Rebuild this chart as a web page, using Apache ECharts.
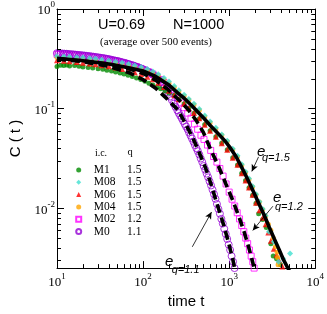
<!DOCTYPE html>
<html><head><meta charset="utf-8">
<script src="https://cdn.jsdelivr.net/npm/echarts@6/dist/echarts.min.js"></script>
<style>html,body{margin:0;padding:0;background:#fff}#c{width:327px;height:314px}</style>
</head><body><div id="c"></div>
<script>
// ---- tick values ----
const xMajorTicks = [10, 100, 1000, 10000];
const yMajorTicks = [0.01, 0.1, 1];
const xMinorTicks = [20,30,40,50,60,70,80,90,200,300,400,500,600,700,800,900,2000,3000,4000,5000,6000,7000,8000,9000];
const yMinorTicks = [0.003,0.004,0.005,0.006,0.007,0.008,0.009,0.02,0.03,0.04,0.05,0.06,0.07,0.08,0.09,0.2,0.3,0.4,0.5,0.6,0.7,0.8,0.9];

// ---- legend table ----
const seriesNames = ['M1','M08','M06','M04','M02','M0'];
const qValues = ['1.5','1.5','1.5','1.5','1.2','1.1'];

// ---- data series (time t, C(t)) ----
const M1_t = [10,11,12,13,14,16,18,20,23,26,30,34,38,43,48,54,60,67,75,84,94,105,117,130,145,160,180,200,230,260,300,340,390,450,520,600,700,820,950,1100,1250,1400,1550,1700,1870,2050,2200,2450,2700,3050,3250,3550,3950];
const M1_C = [0.265,0.272,0.27,0.274,0.268,0.27,0.266,0.262,0.259,0.256,0.251,0.248,0.243,0.238,0.233,0.228,0.222,0.216,0.21,0.203,0.196,0.188,0.18,0.172,0.165,0.158,0.15,0.143,0.136,0.124,0.112,0.101,0.09,0.079,0.069,0.06,0.052,0.045,0.0385,0.032,0.0272,0.0224,0.0189,0.016,0.0135,0.0112,0.0088,0.0077,0.0064,0.0044,0.0033,0.0031,0.0027];

const M08_t = [10,12,14,17,20,24,28,33,40,48,57,68,80,95,112,130,150,175,200,230,260,300,340,390,450,520,600,700,820,950,1100,1250,1400,1550,1700,1870,2050,2250,2450,2650,2900,3300,3750,4250,5100];
const M08_C = [0.335,0.333,0.331,0.328,0.325,0.321,0.316,0.31,0.303,0.296,0.289,0.28,0.271,0.261,0.249,0.236,0.221,0.203,0.187,0.169,0.153,0.138,0.125,0.112,0.099,0.085,0.074,0.064,0.055,0.0475,0.0395,0.0335,0.0276,0.0232,0.0198,0.0166,0.0138,0.0116,0.0098,0.0084,0.0058,0.0046,0.0029,0.0031,0.0035];

const M06_t = [10,12,14,17,20,24,28,33,40,48,57,68,80,95,112,130,150,175,200,230,260,300,340,390,450,520,600,700,820,950,1100,1250,1400,1550,1700,1870,2050,2250,2450,2650,2850,3050,3300,3550,3800,4150,4450];
const M06_C = [0.305,0.302,0.299,0.294,0.289,0.284,0.279,0.273,0.266,0.258,0.25,0.241,0.232,0.222,0.209,0.197,0.182,0.165,0.151,0.136,0.124,0.112,0.101,0.0905,0.08,0.0686,0.06,0.052,0.0449,0.0387,0.0321,0.0273,0.0224,0.0189,0.0161,0.0136,0.0113,0.0095,0.008,0.0069,0.0057,0.0047,0.0039,0.0034,0.003,0.0026,0.0024];

const M04_t = [10,12,14,17,20,24,28,33,40,48,57,68,80,95,112,130,150,175,200,230,260,300,340,390,450,520,600,700,820,950,1100,1250,1400,1550,1700,1870,2050,2250,2450,2650,2850,3050,3250,3450,3600,3650,3700];
const M04_C = [0.325,0.322,0.319,0.315,0.311,0.306,0.301,0.295,0.289,0.283,0.276,0.267,0.259,0.25,0.238,0.226,0.212,0.195,0.18,0.163,0.148,0.134,0.122,0.109,0.096,0.083,0.072,0.0625,0.054,0.0466,0.0387,0.0329,0.027,0.0228,0.0194,0.0163,0.0136,0.0115,0.0097,0.0083,0.0069,0.006,0.005,0.0041,0.0036,0.0032,0.0027];

const M02_t = [10,11,12,13,14,16,18,20,23,26,30,34,38,43,48,54,60,67,75,84,94,105,117,130,145,160,175,190,210,230,250,275,300,330,360,395,430,470,510,560,610,660,720,780,850,920,1000,1080,1160,1240,1320,1400,1480,1560,1640,1720,1800,1880,1950];
const M02_C = [0.35,0.349,0.347,0.345,0.343,0.34,0.337,0.334,0.33,0.326,0.32,0.315,0.31,0.304,0.298,0.292,0.285,0.278,0.27,0.262,0.253,0.243,0.233,0.222,0.209,0.196,0.183,0.17,0.155,0.141,0.128,0.114,0.102,0.09,0.08,0.07,0.062,0.054,0.049,0.043,0.038,0.033,0.029,0.025,0.021,0.0175,0.0145,0.0123,0.0105,0.009,0.0078,0.0067,0.0058,0.005,0.0044,0.0038,0.0033,0.0029,0.0025];

const M0_t = [10,10.5,11,11.6,12.2,12.8,13.4,14.1,14.8,15.5,16.3,17.1,18,18.9,19.8,20.8,21.8,22.9,24,25.2,26.5,27.8,29.2,30.7,32.2,33.8,35.5,37.3,39.2,41.1,43.2,45.3,47.6,50,52.5,55.1,57.9,60.8,63.8,67,70.4,73.9,77.6,81.5,85.5,89.8,94.3,99,104,109,115,120,126,133,139,146,154,161,169,178,187,196,206,216,227,238,250,260,270,281,292,304,316,329,342,356,370,385,400,416,433,450,468,487,506,527,548,570,592,616,641,667,693,721,750,780,811,843,877,912,949,987,1026,1067,1110,1154];
const M0_C = [0.36,0.359,0.358,0.357,0.356,0.355,0.354,0.352,0.351,0.35,0.348,0.347,0.345,0.344,0.342,0.341,0.339,0.337,0.336,0.334,0.332,0.33,0.328,0.326,0.324,0.322,0.32,0.317,0.315,0.312,0.309,0.306,0.303,0.301,0.298,0.294,0.291,0.288,0.285,0.281,0.277,0.274,0.27,0.266,0.262,0.258,0.253,0.249,0.244,0.239,0.234,0.229,0.223,0.216,0.21,0.202,0.193,0.185,0.176,0.165,0.155,0.145,0.132,0.122,0.112,0.104,0.096,0.09,0.085,0.08,0.075,0.07,0.066,0.062,0.0575,0.0535,0.05,0.0465,0.043,0.04,0.0373,0.0345,0.0315,0.029,0.0265,0.0243,0.0222,0.0204,0.0186,0.0169,0.0153,0.0138,0.0124,0.011,0.0098,0.0088,0.0078,0.007,0.0062,0.0055,0.0049,0.0043,0.0038,0.0033,0.0029,0.0025];

// ---- fitted q-exponential curves ----
const fit15_t = [10,20,40,70,100,140,200,254,300,364,430,508,600,746,900,1036,1200,1343,1550,1742,2000,2259,2600,2930,3350,3800,4300,4930,5200];
const fit15_C = [0.32,0.302,0.28,0.256,0.239,0.21,0.172,0.143,0.127,0.108,0.093,0.08,0.068,0.056,0.047,0.04,0.033,0.0275,0.0215,0.0175,0.0135,0.0107,0.0082,0.0064,0.0049,0.00384,0.003,0.0024,0.0022];
const fit12_t = [10,20,40,70,100,140,190,267,340,414,500,608,750,916,1100,1313,1500,1653,1800,1950,2050];
const fit12_C = [0.316,0.3,0.28,0.25,0.225,0.193,0.158,0.12,0.096,0.076,0.058,0.039,0.0265,0.0175,0.012,0.008,0.0057,0.0043,0.0033,0.0025,0.0021];
const fit11_t = [10,20,40,70,100,140,190,254,300,373,450,535,624,700,786,870,964,1042,1100,1154,1200];
const fit11_C = [0.315,0.296,0.265,0.228,0.195,0.16,0.125,0.097,0.075,0.052,0.036,0.025,0.0168,0.012,0.0088,0.0066,0.0048,0.0037,0.0031,0.0025,0.0021];

// ---- annotation arrows [from, to] in data coords ----
const arrowQ15 = [[2193,0.0327],[1832,0.0234]];
const arrowQ12 = [[3222,0.01046],[1879,0.00598]];
const arrowQ11 = [[373,0.00409],[624,0.00914]];

const X_MIN = 10, X_MAX = 10000, Y_MIN = 0.0025, Y_MAX = 1;

function pts(t, c){ return t.map((v,i)=>[v, c[i]]); }
function powLabel(v){
  const e = Math.log10(v), r = Math.round(e);
  if (Math.abs(e - r) > 1e-6) return '';
  return '{b|10}{s|' + (r < 0 ? '-' + (-r) : r) + '}';
}
const labelRich = {
  b: {fontFamily:'Liberation Serif', fontSize:13, lineHeight:17, verticalAlign:'bottom', color:'#000'},
  s: {fontFamily:'Liberation Serif', fontSize:9, lineHeight:9, verticalAlign:'top', color:'#000'}
};
const SERIF = 'Liberation Serif', SANS = 'Liberation Sans';

const chart = echarts.init(document.getElementById('c'), null, {renderer:'canvas'});

function axisCommon(pos, showLabel, isX){
  return {
    type:'log', logBase:10, position:pos,
    min: isX ? X_MIN : Y_MIN, max: isX ? X_MAX : Y_MAX,
    axisLine:{show:true, onZero:false, lineStyle:{color:'#000', width:1}},
    axisTick:{show:true, inside:true, length:7, lineStyle:{color:'#000', width:1}},
    minorTick:{show:false},
    splitLine:{show:false},
    axisLabel:{show:showLabel, formatter:powLabel, rich:labelRich, margin: isX ? 4 : 2},
  };
}
const xAxisB = Object.assign(axisCommon('bottom', true, true), {
  name:'time t', nameLocation:'middle', nameGap:25,
  nameTextStyle:{fontFamily:SANS, fontSize:15, color:'#000'}
});
const xAxisT = axisCommon('top', false, true);
const yAxisL = Object.assign(axisCommon('left', true, false), {
  name:'C ( t )', nameLocation:'middle', nameGap:34, nameRotate:90,
  nameTextStyle:{fontFamily:SANS, fontSize:15, color:'#000'}
});
const yAxisR = axisCommon('right', false, false);

const minorTickSeriesX = {
  type:'custom', coordinateSystem:'cartesian2d', xAxisIndex:0, yAxisIndex:0, silent:true, z:10,
  data: xMinorTicks.map(v=>[v, Y_MAX]),
  renderItem:(p, api)=>{
    const v = api.value(0);
    const b = api.coord([v, Y_MIN]), t = api.coord([v, Y_MAX]);
    const x = Math.round(b[0]) + 0.5;
    return {type:'group', children:[
      {type:'line', shape:{x1:x, y1:b[1], x2:x, y2:b[1]-4}, style:{stroke:'#000', lineWidth:1}},
      {type:'line', shape:{x1:x, y1:t[1], x2:x, y2:t[1]+4}, style:{stroke:'#000', lineWidth:1}}
    ]};
  }
};
const minorTickSeriesY = {
  type:'custom', coordinateSystem:'cartesian2d', xAxisIndex:0, yAxisIndex:0, silent:true, z:10,
  data: yMinorTicks.map(v=>[X_MIN, v]),
  renderItem:(p, api)=>{
    const v = api.value(1);
    const l = api.coord([X_MIN, v]), r = api.coord([X_MAX, v]);
    const y = Math.round(l[1]) + 0.5;
    return {type:'group', children:[
      {type:'line', shape:{x1:l[0], y1:y, x2:l[0]+4, y2:y}, style:{stroke:'#000', lineWidth:1}},
      {type:'line', shape:{x1:r[0], y1:y, x2:r[0]-4, y2:y}, style:{stroke:'#000', lineWidth:1}}
    ]};
  }
};

function scatter(name, t, c, symbol, size, style){
  return {name, type:'scatter', xAxisIndex:0, yAxisIndex:0, data:pts(t,c), symbol, symbolSize:size,
    itemStyle:style, z:2, silent:true, animation:false};
}
function fitLine(name, t, c, dash, extra){
  return Object.assign({name, type:'line', xAxisIndex:0, yAxisIndex:0, data:pts(t,c), showSymbol:false, symbol:'none',
    lineStyle:{color:'#000', width:3.6, type:dash}, z:4, silent:true, animation:false}, extra||{});
}
const arrowLine = (a)=>[{coord:a[0]},{coord:a[1]}];

const option = {
  animation:false,
  backgroundColor:'#fff',
  grid:{left:47, right:11, top:9, bottom:37, containLabel:false},
  xAxis:[xAxisB, xAxisT],
  yAxis:[yAxisL, yAxisR],
  legend:{
    data: seriesNames, orient:'vertical', left:75.2, top:164, padding:0, itemGap:0.3,
    itemWidth:5, itemHeight:5, selectedMode:false,
    formatter:(n)=>'{n|'+n+'}{q|'+qValues[seriesNames.indexOf(n)]+'}',
    textStyle:{fontFamily:SERIF, fontSize:11.5, color:'#000', lineHeight:12,
      rich:{n:{width:33.3, padding:[0,0,0,7.5], fontFamily:SERIF, fontSize:11.5, color:'#000'},
            q:{fontFamily:SERIF, fontSize:11.5, color:'#000'}}}
  },
  series:[
    scatter('M02', M02_t, M02_C, 'rect', 6, {color:'rgba(255,255,255,0)', borderColor:'#ff00ff', borderWidth:1}),
    scatter('M0', M0_t, M0_C, 'circle', 7, {color:'rgba(255,255,255,0)', borderColor:'#9400d3', borderWidth:1}),
    scatter('M1', M1_t, M1_C, 'circle', 5, {color:'#008b00'}),
    scatter('M06', M06_t, M06_C, 'triangle', 6, {color:'#ff0000'}),
    scatter('M04', M04_t, M04_C, 'circle', 5, {color:'#ffa500'}),
    scatter('M08', M08_t, M08_C, 'diamond', 6, {color:'#40e0d0'}),
    fitLine('fit11', fit11_t, fit11_C, [9,5]),
    fitLine('fit12', fit12_t, fit12_C, [9,5]),
    fitLine('fit15', fit15_t, fit15_C, 'solid', {
      markLine:{silent:true, animation:false, symbol:['none','arrow'], symbolSize:[5,7],
        lineStyle:{color:'#000', width:0.8, type:'solid'}, label:{show:false},
        data:[arrowLine(arrowQ15), arrowLine(arrowQ12), arrowLine(arrowQ11)]}
    }),
    minorTickSeriesX, minorTickSeriesY
  ],
  graphic:[
    {type:'text', x:98, y:25, style:{text:'U=0.69', font:'14.5px "Liberation Sans"', fill:'#000', align:'left', verticalAlign:'middle', textAlign:'left', textVerticalAlign:'middle'}},
    {type:'text', x:173, y:25, style:{text:'N=1000', font:'14.5px "Liberation Sans"', fill:'#000', align:'left', verticalAlign:'middle', textAlign:'left', textVerticalAlign:'middle'}},
    {type:'text', x:156, y:42.5, style:{text:'(average over 500 events)', font:'10.8px "Liberation Serif"', fill:'#000', align:'center', verticalAlign:'middle', textAlign:'center', textVerticalAlign:'middle'}},
    {type:'text', x:101, y:153, style:{text:'i.c.', font:'10px "Liberation Serif"', fill:'#000', align:'center', verticalAlign:'middle', textAlign:'center', textVerticalAlign:'middle'}},
    {type:'text', x:130, y:152.5, style:{text:'q', font:'10.5px "Liberation Serif"', fill:'#000', align:'center', verticalAlign:'middle', textAlign:'center', textVerticalAlign:'middle'}},
    {type:'text', x:257, y:152.1, style:{text:'e', font:'italic 15px "Liberation Sans"', fill:'#000', align:'left', verticalAlign:'middle', textAlign:'left', textVerticalAlign:'middle'}},
    {type:'text', x:262, y:158, style:{text:'q=1.5', font:'italic 11px "Liberation Sans"', fill:'#000', align:'left', verticalAlign:'middle', textAlign:'left', textVerticalAlign:'middle'}},
    {type:'text', x:273, y:198.1, style:{text:'e', font:'italic 15px "Liberation Sans"', fill:'#000', align:'left', verticalAlign:'middle', textAlign:'left', textVerticalAlign:'middle'}},
    {type:'text', x:275, y:206.6, style:{text:'q=1.2', font:'italic 11px "Liberation Sans"', fill:'#000', align:'left', verticalAlign:'middle', textAlign:'left', textVerticalAlign:'middle'}},
    {type:'text', x:165, y:262.1, style:{text:'e', font:'italic 15px "Liberation Sans"', fill:'#000', align:'left', verticalAlign:'middle', textAlign:'left', textVerticalAlign:'middle'}},
    {type:'text', x:171.7, y:269.9, style:{text:'q=1.1', font:'italic 11px "Liberation Sans"', fill:'#000', align:'left', verticalAlign:'middle', textAlign:'left', textVerticalAlign:'middle'}}
  ]
};
chart.setOption(option);
</script>
</body></html>
